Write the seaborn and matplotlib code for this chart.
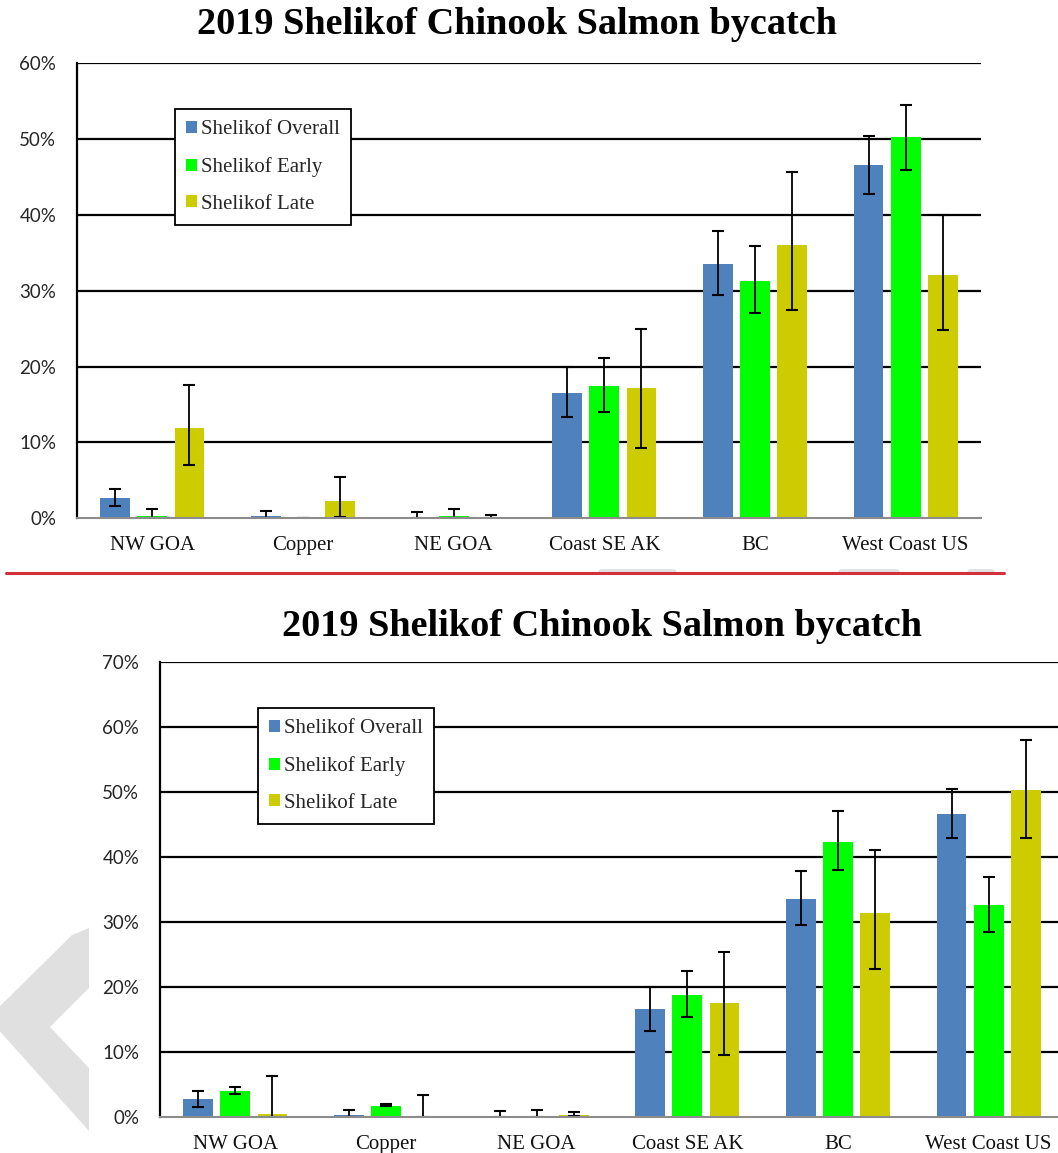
import numpy as np
import pandas as pd
import matplotlib
matplotlib.use('Agg')
import matplotlib.pyplot as plt
import seaborn as sns
from matplotlib.colors import to_rgb
from matplotlib.container import BarContainer
from matplotlib.patches import Polygon, FancyBboxPatch
from matplotlib.lines import Line2D

# ─── data (percent) ─────────────────────────────────────────────────────────
regions = ["NW GOA", "Copper", "NE GOA", "Coast SE AK", "BC", "West Coast US"]
series = ["Shelikof Overall", "Shelikof Early", "Shelikof Late"]
colors = {"Shelikof Overall": "#4F81BD", "Shelikof Early": "#00FF00", "Shelikof Late": "#CCCC00"}

# top panel
top_overall    = [2.7, 0.3, 0.0, 16.5, 33.5, 46.6]
top_overall_lo = [1.6, 0.0, 0.0, 13.3, 29.4, 42.8]
top_overall_hi = [3.9, 1.0, 0.8, 20.0, 37.8, 50.4]
top_early      = [0.3, 0.0, 0.3, 17.4, 31.3, 50.2]
top_early_lo   = [0.0, 0.0, 0.0, 14.0, 27.0, 45.9]
top_early_hi   = [1.2, 0.1, 1.2, 21.1, 35.9, 54.5]
top_late       = [11.9, 2.3, 0.0, 17.2, 36.0, 32.1]
top_late_lo    = [7.0, 0.2, 0.0, 9.2, 27.4, 24.8]
top_late_hi    = [17.6, 5.5, 0.4, 25.0, 45.6, 40.0]
top_yticks = [0, 10, 20, 30, 40, 50, 60]

# bottom panel
bot_overall    = [2.7, 0.3, 0.0, 16.5, 33.5, 46.6]
bot_overall_lo = [1.5, 0.0, 0.0, 13.2, 29.5, 42.9]
bot_overall_hi = [4.0, 1.0, 0.9, 20.0, 37.8, 50.4]
bot_early      = [3.9, 1.7, 0.0, 18.7, 42.3, 32.6]
bot_early_lo   = [3.5, 1.6, 0.0, 15.3, 38.0, 28.4]
bot_early_hi   = [4.6, 1.9, 1.0, 22.4, 47.0, 36.9]
bot_late       = [0.4, 0.0, 0.3, 17.5, 31.3, 50.2]
bot_late_lo    = [0.0, 0.0, 0.1, 9.5, 22.8, 42.9]
bot_late_hi    = [6.2, 3.3, 0.7, 25.4, 41.0, 57.9]
bot_yticks = [0, 10, 20, 30, 40, 50, 60, 70]

TITLE = "2019 Shelikof Chinook Salmon bycatch"

W, H = 1058, 1153
fig = plt.figure(figsize=(W / 100, H / 100), dpi=100)


def fx(px):
    return px / W


def fy(py):
    return 1 - py / H


def panel(rect, vals, yticks, legend_xy, title_xy):
    df = pd.DataFrame({
        "region": regions * 3,
        "series": np.repeat(series, len(regions)),
        "value": np.concatenate([vals[s][0] for s in series]),
    })
    ax = fig.add_axes(rect)
    sns.barplot(data=df, x="region", y="value", hue="series", order=regions,
                hue_order=series, palette=colors, saturation=1, width=0.74,
                gap=0.2, errorbar=None, ax=ax, zorder=3, edgecolor="none")

    # asymmetric error bars, placed on the bars seaborn drew
    containers = [c for c in ax.containers if isinstance(c, BarContainer)]
    for s in series:
        cont = [c for c in containers
                if np.allclose(c.patches[0].get_facecolor()[:3], to_rgb(colors[s]))][0]
        xs = [p.get_x() + p.get_width() / 2 for p in cont.patches]
        v, lo, hi = [np.array(a) for a in vals[s]]
        ax.errorbar(xs, v, yerr=[v - lo, hi - v], fmt="none", ecolor="black",
                    elinewidth=1.3, capsize=4, capthick=1.5, zorder=4)

    ax.set_ylim(yticks[0], yticks[-1])
    ax.set_xlim(-0.5, len(regions) - 0.5)
    ax.set_yticks(yticks)
    ax.set_yticklabels([f"{t}%" for t in yticks], family="Lato", fontsize=13.5,
                       color="#262626")
    ax.set_xticks(range(len(regions)))
    ax.set_xticklabels(regions, family="Liberation Serif", fontsize=15,
                       color="#111111")
    for t in yticks[1:]:
        ax.axhline(t, color="black", lw=1.6, zorder=1)
    ax.set_xlabel("")
    ax.set_ylabel("")
    for sp in ["top", "right"]:
        ax.spines[sp].set_visible(False)
    ax.spines["left"].set_color("black")
    ax.spines["left"].set_linewidth(1.6)
    ax.spines["bottom"].set_color("#8C8C8C")
    ax.spines["bottom"].set_linewidth(1.5)
    ax.spines["bottom"].set_zorder(5)
    ax.tick_params(axis="y", length=6, width=1.6, color="black", pad=9)
    ax.tick_params(axis="x", length=0, pad=13)
    ax.set_facecolor("none")

    handles, labels = ax.get_legend_handles_labels()
    leg = ax.legend(handles, labels, loc="upper left",
                    bbox_to_anchor=(fx(legend_xy[0]), fy(legend_xy[1])),
                    bbox_transform=fig.transFigure, borderaxespad=0,
                    prop={"family": "Liberation Serif", "size": 15},
                    handlelength=0.5, handleheight=0.5, handletextpad=0.2,
                    labelspacing=0.85, borderpad=0.55, fancybox=False,
                    framealpha=1, edgecolor="black")
    leg.get_frame().set_linewidth(1.3)
    leg.set_zorder(10)

    fig.text(fx(title_xy[0]), fy(title_xy[1]), TITLE, ha="center", va="center",
             family="Liberation Serif", fontweight="bold", fontsize=27.5,
             color="black")
    return ax


sns.set_style("white")

# background decorations (grey chevron, separator)
fig.patches.append(Polygon(
    [(fx(89), fy(928)), (fx(72), fy(935)), (fx(-12), fy(1018)),
     (fx(89), fy(1131)), (fx(89), fy(1068)), (fx(50), fy(1027)),
     (fx(89), fy(988))],
    closed=True, transform=fig.transFigure, facecolor="#E0E0E0",
    edgecolor="none", zorder=0))
for x0, x1 in [(598, 677), (838, 900), (967, 995)]:
    fig.patches.append(FancyBboxPatch(
        (fx(x0), fy(575)), fx(x1 - x0), 6 / H,
        boxstyle="round,pad=0,rounding_size=0.004",
        transform=fig.transFigure, facecolor="#E3E3E3", edgecolor="none",
        zorder=0))
fig.lines.append(Line2D([fx(6), fx(1004)], [fy(572.5), fy(572.5)],
                        transform=fig.transFigure, color="#D1313B", lw=2.2))

top_vals = {
    "Shelikof Overall": (top_overall, top_overall_lo, top_overall_hi),
    "Shelikof Early": (top_early, top_early_lo, top_early_hi),
    "Shelikof Late": (top_late, top_late_lo, top_late_hi),
}
bot_vals = {
    "Shelikof Overall": (bot_overall, bot_overall_lo, bot_overall_hi),
    "Shelikof Early": (bot_early, bot_early_lo, bot_early_hi),
    "Shelikof Late": (bot_late, bot_late_lo, bot_late_hi),
}

panel([fx(77), fy(518.3), fx(904), (518.3 - 63) / H], top_vals, top_yticks,
      (175, 109), (517, 25))
panel([fx(160), fy(1116.7), fx(904), (1116.7 - 661.7) / H], bot_vals, bot_yticks,
      (258, 708), (602, 626))

fig.savefig("out.png", dpi=100)
